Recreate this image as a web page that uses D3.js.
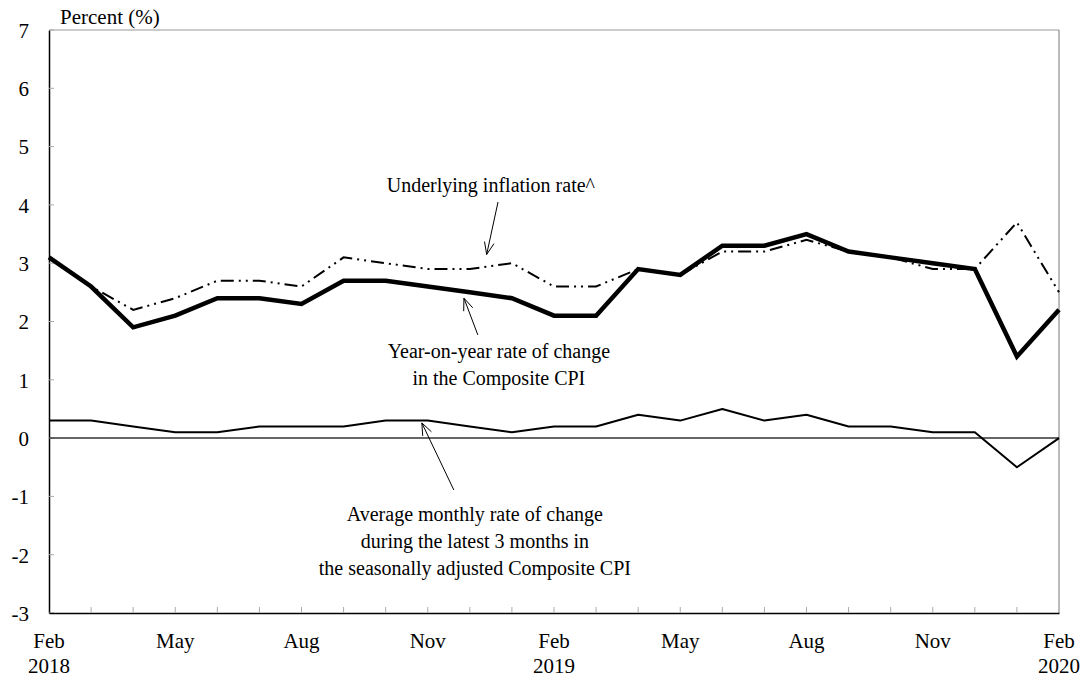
<!DOCTYPE html>
<html>
<head>
<meta charset="utf-8">
<script src="https://cdn.jsdelivr.net/npm/d3@7"></script>
<style>
  body { margin: 0; background: #fff; }
  text { font-family: "Liberation Serif", "Times New Roman", serif; fill: #000; }
</style>
</head>
<body>
<div id="chart"></div>
<script>
// monthly data, Feb 2018 to Feb 2020
const months = ["Feb 2018", "Mar", "Apr", "May", "Jun", "Jul", "Aug", "Sep", "Oct", "Nov", "Dec",
    "Jan 2019", "Feb 2019", "Mar", "Apr", "May", "Jun", "Jul", "Aug", "Sep", "Oct", "Nov", "Dec",
    "Jan 2020", "Feb 2020"];
const compositeYoY = [3.1, 2.6, 1.9, 2.1, 2.4, 2.4, 2.3, 2.7, 2.7, 2.6, 2.5, 2.4, 2.1, 2.1,
    2.9, 2.8, 3.3, 3.3, 3.5, 3.2, 3.1, 3.0, 2.9, 1.4, 2.2];
const underlying = [3.1, 2.6, 2.2, 2.4, 2.7, 2.7, 2.6, 3.1, 3.0, 2.9, 2.9, 3.0, 2.6, 2.6,
    2.9, 2.8, 3.2, 3.2, 3.4, 3.2, 3.1, 2.9, 2.9, 3.7, 2.5];
const avgMonthly = [0.3, 0.3, 0.2, 0.1, 0.1, 0.2, 0.2, 0.2, 0.3, 0.3, 0.2, 0.1, 0.2, 0.2,
    0.4, 0.3, 0.5, 0.3, 0.4, 0.2, 0.2, 0.1, 0.1, -0.5, 0.0];
const yTicks = [-3, -2, -1, 0, 1, 2, 3, 4, 5, 6, 7];
// x tick labels: index -> [month, year]
const xLabels = [[0, "Feb", "2018"], [3, "May", ""], [6, "Aug", ""], [9, "Nov", ""],
    [12, "Feb", "2019"], [15, "May", ""], [18, "Aug", ""], [21, "Nov", ""], [24, "Feb", "2020"]];

// annotations in data coordinates (month index, value)
const annotations = [
    { lines: ["Underlying inflation rate^"], at: [10.5, 4.22], tail: [10.67, 4.05], tip: [10.4, 3.15] },
    { lines: ["Year-on-year rate of change", "in the Composite CPI"], at: [10.69, 1.37], tail: [10.19, 1.77], tip: [9.86, 2.40] },
    { lines: ["Average monthly rate of change", "during the latest 3 months in", "the seasonally adjusted Composite CPI"],
      at: [10.12, -1.42], tail: [9.62, -0.89], tip: [8.86, 0.26] }
];

const W = 1086, H = 678;
const margin = { top: 30, right: 27, bottom: 65, left: 49 };
const width = W - margin.left - margin.right;
const height = H - margin.top - margin.bottom;

const svg = d3.select("#chart").append("svg")
    .attr("width", W).attr("height", H)
    .append("g")
    .attr("transform", `translate(${margin.left},${margin.top})`);

const x = d3.scaleLinear().domain([0, months.length - 1]).range([0, width]);
const y = d3.scaleLinear().domain([-3, 7]).range([height, 0]);

// frame: top and right light
svg.append("line").attr("x1", 0).attr("x2", width).attr("y1", 0).attr("y2", 0)
    .attr("stroke", "#999").attr("stroke-width", 1);
svg.append("line").attr("x1", width).attr("x2", width).attr("y1", 0).attr("y2", height)
    .attr("stroke", "#777").attr("stroke-width", 1);

// y axis
const yAxis = svg.append("g")
    .call(d3.axisLeft(y).tickValues(yTicks).tickSize(0).tickPadding(20).tickFormat(d => String(d)));
yAxis.select(".domain").attr("stroke", "#000").attr("stroke-width", 1.5);
yAxis.selectAll("text").attr("font-size", 21).attr("font-family", "Liberation Serif").attr("dy", "0.35em");
svg.selectAll(".ytick").data(yTicks).enter().append("line")
    .attr("x1", 0).attr("x2", 5)
    .attr("y1", d => y(d)).attr("y2", d => y(d))
    .attr("stroke", "#aaa").attr("stroke-width", 1);

// x axis with inward month ticks
const xAxis = svg.append("g")
    .attr("transform", `translate(0,${height})`)
    .call(d3.axisBottom(x).ticks(0).tickSize(0).tickFormat(""));
xAxis.select(".domain").attr("stroke", "#000").attr("stroke-width", 1.5);
svg.selectAll(".xtick").data(d3.range(1, months.length - 1)).enter().append("line")
    .attr("x1", d => x(d)).attr("x2", d => x(d))
    .attr("y1", height).attr("y2", height - 6)
    .attr("stroke", "#aaa").attr("stroke-width", 1);

const xl = svg.selectAll(".xlab").data(xLabels).enter().append("text")
    .attr("text-anchor", "middle")
    .attr("font-size", 21)
    .attr("x", d => x(d[0]))
    .attr("y", height + 35);
xl.append("tspan").attr("x", d => x(d[0])).text(d => d[1]);
xl.append("tspan").attr("x", d => x(d[0])).attr("dy", 25).text(d => d[2]);

// axis title
svg.append("text").attr("x", 11).attr("y", -6).attr("font-size", 21).text("Percent (%)");

// zero line
svg.append("line").attr("x1", 0).attr("x2", width).attr("y1", y(0)).attr("y2", y(0))
    .attr("stroke", "#333").attr("stroke-width", 1.5);

const line = d3.line().x((d, i) => x(i)).y(d => y(d));

svg.append("path").datum(avgMonthly).attr("d", line)
    .attr("fill", "none").attr("stroke", "#000").attr("stroke-width", 2).attr("stroke-linejoin", "round");
svg.append("path").datum(underlying).attr("d", line)
    .attr("fill", "none").attr("stroke", "#000").attr("stroke-width", 2)
    .attr("stroke-dasharray", "13,5,2,5,2,5");
svg.append("path").datum(compositeYoY).attr("d", line)
    .attr("fill", "none").attr("stroke", "#000").attr("stroke-width", 4.5).attr("stroke-linejoin", "miter");

// annotations
annotations.forEach(a => {
    const t = svg.append("text").attr("text-anchor", "middle").attr("font-size", 20)
        .attr("x", x(a.at[0])).attr("y", y(a.at[1]));
    a.lines.forEach((l, i) => t.append("tspan").attr("x", x(a.at[0])).attr("dy", i === 0 ? 0 : 27).text(l));

    const x0 = x(a.tail[0]), y0 = y(a.tail[1]), x1 = x(a.tip[0]), y1 = y(a.tip[1]);
    const ang = Math.atan2(y1 - y0, x1 - x0);
    const len = 13, spread = 0.38;
    const p = d3.path();
    p.moveTo(x0, y0); p.lineTo(x1, y1);
    p.moveTo(x1 - len * Math.cos(ang - spread), y1 - len * Math.sin(ang - spread));
    p.lineTo(x1, y1);
    p.lineTo(x1 - len * Math.cos(ang + spread), y1 - len * Math.sin(ang + spread));
    svg.append("path").attr("d", p.toString())
        .attr("fill", "none").attr("stroke", "#000").attr("stroke-width", 1);
});
</script>
</body>
</html>
